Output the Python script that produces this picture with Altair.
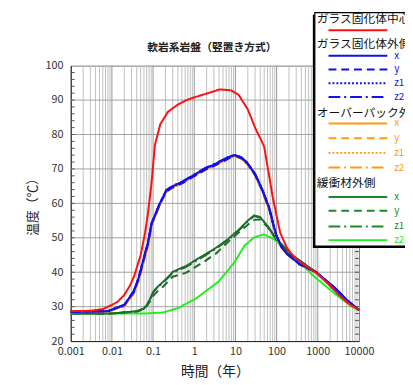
import altair as alt
import pandas as pd

FONT = "Noto Sans CJK JP"

# ---------------- data ----------------
chart_title = "軟岩系岩盤（竪置き方式）"

t_red = [0.001, 0.003, 0.006, 0.01, 0.014, 0.02, 0.028, 0.035, 0.05, 0.064, 0.075, 0.09,
         0.111, 0.15, 0.23, 0.4, 0.65, 1, 1.9, 4.2, 8, 12, 20, 30, 50, 80, 122, 180,
         250, 430, 700, 1100, 2000, 3300, 5500, 10000]
temp_red = [28.7, 28.8, 29.3, 30.5, 31.5, 33.4, 36.3, 39.0, 45.0, 51.5, 57.0, 65.0,
            77.0, 83.0, 86.6, 88.7, 90.0, 90.8, 91.8, 93.1, 92.8, 91.5, 87.3, 82.0, 76.5,
            62.0, 51.5, 47.0, 44.8, 42.4, 40.8, 39.1, 36.2, 33.3, 31.0, 29.0]

t_blue = [0.001, 0.008, 0.02, 0.034, 0.045, 0.059, 0.075, 0.093, 0.111, 0.146, 0.21, 0.3,
          0.52, 1, 1.86, 2.7, 5, 8, 10, 14, 20, 30, 45, 67, 85, 100, 130, 175, 360, 900,
          2700, 5000, 10000]
temp_blue_x = [28.5, 28.7, 30.5, 34.5, 38.5, 44.0, 48.5, 54.5, 56.5, 60.0, 63.8, 65.0,
               66.3, 68.3, 70.2, 71.0, 72.6, 73.8, 74.0, 73.3, 71.6, 68.5, 64.0, 58.5,
               53.5, 50.5, 47.5, 45.5, 42.4, 40.1, 35.3, 32.0, 29.0]
temp_blue_y = [28.5, 28.7, 30.4, 34.2, 38.2, 43.6, 48.2, 54.2, 56.4, 59.8, 63.5, 64.6,
               65.9, 67.9, 69.8, 70.6, 72.2, 73.5, 73.8, 73.1, 71.4, 68.3, 63.8, 58.3,
               53.4, 50.4, 47.4, 45.4, 42.3, 40.0, 35.3, 32.0, 29.0]
temp_blue_z1 = [28.5, 28.7, 30.5, 34.4, 38.4, 43.9, 48.4, 54.4, 56.5, 60.0, 63.7, 64.9,
                66.2, 68.2, 70.1, 70.9, 72.5, 73.7, 73.9, 73.2, 71.5, 68.4, 63.9, 58.4,
                53.5, 50.5, 47.5, 45.5, 42.4, 40.1, 35.3, 32.0, 29.0]
temp_blue_z2 = [28.5, 28.7, 30.6, 34.6, 38.6, 44.1, 48.6, 54.6, 56.6, 60.1, 63.9, 65.1,
                66.4, 68.4, 70.3, 71.1, 72.7, 73.9, 74.1, 73.4, 71.7, 68.6, 64.1, 58.6,
                53.6, 50.6, 47.6, 45.6, 42.5, 40.1, 35.3, 32.0, 29.0]
temp_orange_x = [28.4, 28.6, 30.2, 33.9, 37.8, 43.2, 47.8, 53.8, 56.0, 59.6, 63.4, 64.7,
                 66.0, 68.0, 69.9, 70.7, 72.3, 73.5, 73.7, 73.0, 71.3, 68.2, 63.6, 58.0,
                 53.2, 50.2, 47.3, 45.3, 42.3, 40.0, 35.2, 31.9, 29.0]
temp_orange_y = [28.4, 28.6, 30.1, 33.8, 37.6, 43.0, 47.6, 53.6, 55.9, 59.5, 63.3, 64.5,
                 65.8, 67.8, 69.7, 70.5, 72.1, 73.4, 73.6, 72.9, 71.2, 68.1, 63.5, 57.9,
                 53.1, 50.1, 47.2, 45.3, 42.3, 40.0, 35.2, 31.9, 29.0]
temp_orange_z1 = [28.4, 28.6, 30.2, 33.9, 37.7, 43.1, 47.7, 53.7, 56.0, 59.6, 63.4, 64.6,
                  65.9, 67.9, 69.8, 70.6, 72.2, 73.5, 73.7, 73.0, 71.3, 68.2, 63.6, 58.0,
                  53.2, 50.2, 47.3, 45.3, 42.3, 40.0, 35.2, 31.9, 29.0]
temp_orange_z2 = [28.4, 28.6, 30.3, 34.0, 37.9, 43.3, 47.9, 53.9, 56.1, 59.7, 63.5, 64.8,
                  66.1, 68.1, 70.0, 70.8, 72.4, 73.6, 73.8, 73.1, 71.4, 68.3, 63.7, 58.1,
                  53.3, 50.3, 47.4, 45.4, 42.4, 40.0, 35.2, 31.9, 29.0]

t_green = [0.001, 0.01, 0.041, 0.06, 0.071, 0.085, 0.102, 0.13, 0.175, 0.25, 0.3, 0.625,
           1.86, 3.5, 6.6, 12, 20, 28.5, 40, 60, 100, 250, 900, 2500, 5000, 10000]
temp_green_x = [28.0, 28.0, 28.7, 29.5, 30.6, 32.3, 34.4, 35.8, 37.2, 39.0, 40.1, 41.8,
                45.2, 47.2, 49.6, 52.3, 55.0, 56.5, 56.0, 53.5, 49.6, 44.8, 40.0, 35.0,
                32.0, 29.0]
temp_green_y = [28.0, 28.0, 28.6, 29.3, 30.2, 31.6, 33.2, 34.5, 35.8, 37.8, 38.7, 39.8,
                43.3, 45.6, 48.8, 51.5, 53.8, 55.2, 55.3, 53.2, 49.4, 44.7, 40.0, 35.0,
                32.0, 29.0]
temp_green_z1 = [28.0, 28.0, 28.7, 29.4, 30.5, 32.1, 34.2, 35.6, 37.0, 38.8, 39.9, 41.5,
                 44.9, 47.0, 49.4, 52.1, 54.8, 56.3, 55.9, 53.4, 49.5, 44.8, 40.0, 35.0,
                 32.0, 29.0]

t_lgreen = [0.001, 0.01, 0.06, 0.175, 0.43, 0.625, 1.08, 1.86, 3.85, 9.5, 16.6, 28.5, 49,
            85, 148, 251, 760, 2240, 6600, 10000]
temp_lgreen_z2 = [28.0, 28.0, 28.0, 28.3, 29.7, 30.8, 32.3, 34.4, 37.2, 42.9, 47.7, 50.1,
                  51.0, 49.6, 47.2, 44.8, 39.1, 34.4, 30.0, 29.0]

x_ticks = [0.001, 0.01, 0.1, 1, 10, 100, 1000, 10000]
y_ticks = [20, 30, 40, 50, 60, 70, 80, 90, 100]

group_titles = ["ガラス固化体中心", "ガラス固化体外側", "オーバーパック外側", "緩衝材外側"]
sub_labels = ["x", "y", "z1", "z2"]

# ---------------- styles ----------------
RED = "#ff1010"
BLUE = "#1010f0"
ORANGE = "#ff9a10"
GREEN = "#1c6e28"
LGREEN = "#22ee22"
LEG_GREEN = "#1e8a26"
SOLID = [1, 0]
DASH = [8, 5]
DOT = [2, 2]
DASHDOT = [12, 4, 2, 4]

series = [
    ("lg_z2", t_lgreen, temp_lgreen_z2, LGREEN, SOLID),
    ("g_z1", t_green, temp_green_z1, GREEN, DASHDOT),
    ("g_y", t_green, temp_green_y, GREEN, DASH),
    ("g_x", t_green, temp_green_x, GREEN, SOLID),
    ("o_x", t_blue, temp_orange_x, ORANGE, SOLID),
    ("o_y", t_blue, temp_orange_y, ORANGE, DASH),
    ("o_z1", t_blue, temp_orange_z1, ORANGE, DOT),
    ("o_z2", t_blue, temp_orange_z2, ORANGE, DASHDOT),
    ("b_x", t_blue, temp_blue_x, BLUE, SOLID),
    ("b_y", t_blue, temp_blue_y, BLUE, DASH),
    ("b_z1", t_blue, temp_blue_z1, BLUE, DOT),
    ("b_z2", t_blue, temp_blue_z2, BLUE, DASHDOT),
    ("red", t_red, temp_red, RED, SOLID),
]

W, H = 294, 281
xscale = alt.Scale(type="log", domain=[0.001, 10000], nice=False)
yscale = alt.Scale(domain=[20, 100], nice=False, zero=False)

xaxis = alt.Axis(values=x_ticks, labelExpr="toString(datum.value)", grid=False,
                 tickSize=0, labelPadding=5, labelFont=FONT, labelFontSize=11,
                 labelColor="#333", title="時間（年）", titleFont=FONT, titleFontSize=14,
                 titleFontWeight="normal", titleColor="#222", titlePadding=8,
                 domainColor="#222", labelFlush=False)
yaxis = alt.Axis(values=y_ticks, grid=False, tickSize=0, labelPadding=8,
                 labelFont=FONT, labelFontSize=11, labelColor="#333",
                 title="温度（℃）", titleFont=FONT, titleFontSize=13,
                 titleFontWeight="normal", titleColor="#222", titlePadding=6,
                 domainColor="#222")

def X(field):
    return alt.X(field, type="quantitative", scale=xscale, axis=xaxis)

def Y(field):
    return alt.Y(field, type="quantitative", scale=yscale, axis=yaxis)

# grid
minor_x = [m * 10.0 ** k for k in range(-3, 4) for m in range(2, 10)]
df_minor = pd.DataFrame({"t": minor_x})
df_major = pd.DataFrame({"t": x_ticks[1:-1]})
df_hgrid = pd.DataFrame({"v": y_ticks[1:-1]})
df_yt = pd.DataFrame({"v": [v for v in range(22, 100, 2)]})

grid_minor = alt.Chart(df_minor).mark_rule(color="#c0c0c0", strokeWidth=1).encode(x=X("t"))
grid_major = alt.Chart(df_major).mark_rule(color="#959595", strokeWidth=1).encode(x=X("t"))
grid_h = alt.Chart(df_hgrid).mark_rule(color="#a0a0a0", strokeWidth=1).encode(y=Y("v"))
ytick_l = alt.Chart(df_yt).mark_rule(color="#555", strokeWidth=1).encode(
    y=Y("v"), x=alt.value(0), x2=alt.value(4))
ytick_r = alt.Chart(df_yt).mark_rule(color="#555", strokeWidth=1).encode(
    y=Y("v"), x=alt.value(W - 4), x2=alt.value(W))

layers = [grid_minor, grid_major, grid_h, ytick_l, ytick_r]

for name, ts, vs, col, dash in series:
    df = pd.DataFrame({"t": ts, "v": vs})
    layers.append(
        alt.Chart(df).mark_line(color=col, strokeDash=dash, strokeWidth=2).encode(
            x=X("t"), y=Y("v"))
    )

# ---------------- title (as a text mark, above the plot) ----------------
layers.append(alt.Chart().mark_text(align="center", baseline="middle", font=FONT,
                                    fontSize=11, fontWeight="bold", color="#222").encode(
    x=alt.value(W / 2 - 3), y=alt.value(-18), text=alt.value(chart_title)))

# ---------------- hand-made legend ----------------
LX0, LX1 = 249, 360
LY0, LY1 = -54, 184
layers.append(alt.Chart().mark_rect(color="#000").encode(
    x=alt.value(LX0 - 2), x2=alt.value(LX1), y=alt.value(LY0 + 2), y2=alt.value(LY1 + 2)))
layers.append(alt.Chart().mark_rect(fill="white", stroke="#000", strokeWidth=1.2).encode(
    x=alt.value(LX0), x2=alt.value(LX1), y=alt.value(LY0), y2=alt.value(LY1)))

row_y = [-47, -36, -22, -10, 4, 18, 32, 48, 59, 74, 89, 104, 120, 134, 148, 164, 178]
legend_rows = [
    ("head", group_titles[0], None, None),
    ("line", "", RED, SOLID),
    ("head", group_titles[1], None, None),
    ("line", sub_labels[0], BLUE, SOLID),
    ("line", sub_labels[1], BLUE, DASH),
    ("line", sub_labels[2], BLUE, DOT),
    ("line", sub_labels[3], BLUE, DASHDOT),
    ("head", group_titles[2], None, None),
    ("line", sub_labels[0], ORANGE, SOLID),
    ("line", sub_labels[1], ORANGE, DASH),
    ("line", sub_labels[2], ORANGE, DOT),
    ("line", sub_labels[3], ORANGE, DASHDOT),
    ("head", group_titles[3], None, None),
    ("line", sub_labels[0], LEG_GREEN, SOLID),
    ("line", sub_labels[1], LEG_GREEN, DASH),
    ("line", sub_labels[2], LEG_GREEN, DASHDOT),
    ("line", sub_labels[3], LGREEN, SOLID),
]
for (kind, txt, col, dash), yy in zip(legend_rows, row_y):
    if kind == "head":
        layers.append(alt.Chart().mark_text(align="left", baseline="middle", font=FONT,
                                            fontSize=12, color="#111").encode(
            x=alt.value(LX0 + 2), y=alt.value(yy), text=alt.value(txt)))
    else:
        layers.append(alt.Chart().mark_rule(color=col, strokeDash=dash, strokeWidth=2).encode(
            x=alt.value(263), x2=alt.value(323), y=alt.value(yy)))
        if txt:
            layers.append(alt.Chart().mark_text(align="left", baseline="middle", font=FONT,
                                                fontSize=10, color=col).encode(
                x=alt.value(330), y=alt.value(yy), text=alt.value(txt)))

chart = alt.layer(*layers).properties(
    width=W, height=H,
    padding={"left": 64, "top": 55, "right": 47, "bottom": 41},
    autosize=alt.AutoSizeParams(type="none"),
).configure_view(stroke="#777", strokeWidth=1)

chart.save("out.html", embed_options={"renderer": "svg", "actions": False})
